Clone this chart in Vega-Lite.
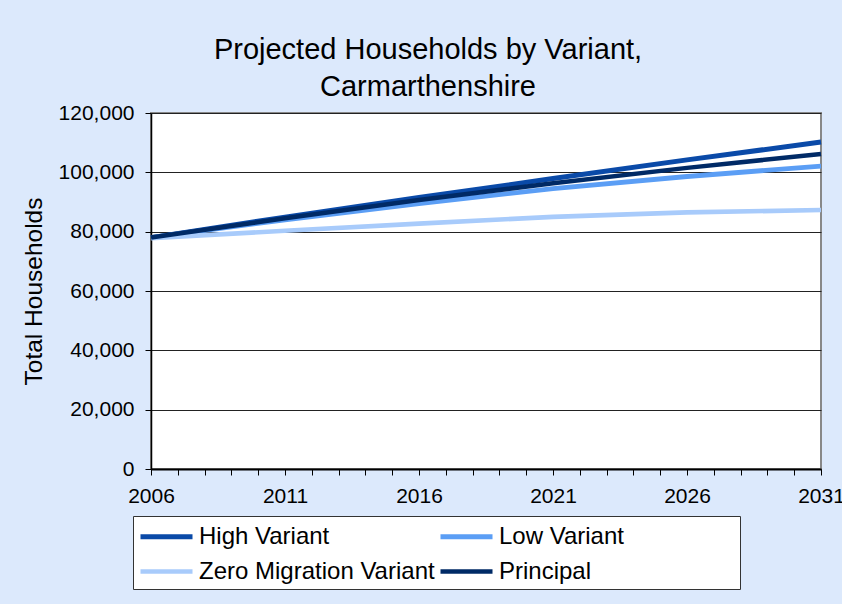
{
  "$schema": "https://vega.github.io/schema/vega-lite/v6.json",
  "width": 670,
  "height": 356,
  "autosize": {"type": "none"},
  "padding": {"left": 151, "top": 113, "right": 21, "bottom": 135},
  "background": "#dce9fc",
  "title": {
    "text": ["Projected Households by Variant,", "Carmarthenshire"],
    "font": "Liberation Sans",
    "fontSize": 29,
    "fontWeight": "normal",
    "color": "#000000",
    "anchor": "middle",
    "dx": -58,
    "lineHeight": 37,
    "offset": 0
  },
  "data": {
    "values": [
      {"series": "High Variant", "year": 2006, "households": 78000},
      {"series": "High Variant", "year": 2011, "households": 84900},
      {"series": "High Variant", "year": 2016, "households": 91500},
      {"series": "High Variant", "year": 2021, "households": 97900},
      {"series": "High Variant", "year": 2026, "households": 104200},
      {"series": "High Variant", "year": 2031, "households": 110200},
      {"series": "Low Variant", "year": 2006, "households": 78000},
      {"series": "Low Variant", "year": 2011, "households": 84000},
      {"series": "Low Variant", "year": 2016, "households": 89500},
      {"series": "Low Variant", "year": 2021, "households": 94500},
      {"series": "Low Variant", "year": 2026, "households": 98600},
      {"series": "Low Variant", "year": 2031, "households": 102100},
      {"series": "Zero Migration Variant", "year": 2006, "households": 77800},
      {"series": "Zero Migration Variant", "year": 2011, "households": 80300},
      {"series": "Zero Migration Variant", "year": 2016, "households": 82700},
      {"series": "Zero Migration Variant", "year": 2021, "households": 85000},
      {"series": "Zero Migration Variant", "year": 2026, "households": 86500},
      {"series": "Zero Migration Variant", "year": 2031, "households": 87300},
      {"series": "Principal", "year": 2006, "households": 78000},
      {"series": "Principal", "year": 2011, "households": 84500},
      {"series": "Principal", "year": 2016, "households": 90700},
      {"series": "Principal", "year": 2021, "households": 96300},
      {"series": "Principal", "year": 2026, "households": 101500},
      {"series": "Principal", "year": 2031, "households": 106200}
    ]
  },
  "encoding": {
    "x": {
      "field": "year",
      "type": "quantitative",
      "scale": {"domain": [2006, 2031], "nice": false, "zero": false},
      "axis": {
        "title": null,
        "values": [2006,2007,2008,2009,2010,2011,2012,2013,2014,2015,2016,2017,2018,2019,2020,2021,2022,2023,2024,2025,2026,2027,2028,2029,2030,2031],
        "format": "d",
        "labelExpr": "(datum.value - 2006) % 5 == 0 ? datum.label : ''",
        "grid": false,
        "domainColor": "#000000",
        "domainWidth": 2,
        "tickColor": "#000000",
        "tickSize": 6,
        "tickWidth": 1,
        "labelFont": "Liberation Sans",
        "labelFontSize": 21,
        "labelColor": "#000000",
        "labelPadding": 10,
        "labelOverlap": false,
        "labelFlush": false
      }
    },
    "y": {
      "field": "households",
      "type": "quantitative",
      "scale": {"domain": [0, 120000], "nice": false},
      "axis": {
        "title": "Total Households",
        "titleFont": "Liberation Sans",
        "titleFontSize": 24.5,
        "titleFontWeight": "normal",
        "titleColor": "#000000",
        "titlePadding": 12,
        "values": [0, 20000, 40000, 60000, 80000, 100000, 120000],
        "format": ",d",
        "grid": true,
        "gridColor": "#222222",
        "gridWidth": 1,
        "domainColor": "#000000",
        "domainWidth": 1.5,
        "tickColor": "#000000",
        "tickSize": 6,
        "labelFont": "Liberation Sans",
        "labelFontSize": 21,
        "labelColor": "#000000",
        "labelPadding": 11
      }
    },
    "color": {
      "field": "series",
      "type": "nominal",
      "sort": ["High Variant", "Low Variant", "Zero Migration Variant", "Principal"],
      "scale": {
        "domain": ["High Variant", "Low Variant", "Zero Migration Variant", "Principal"],
        "range": ["#0a4aa8", "#5b9ef5", "#a8cbfb", "#002a66"]
      },
      "legend": {
        "title": "\u00a0",
        "titleOrient": "right",
        "titleFontSize": 10,
        "titlePadding": 111,
        "orient": "none",
        "legendX": -18,
        "legendY": 403,
        "direction": "horizontal",
        "columns": 2,
        "gridAlign": "all",
        "columnPadding": -5,
        "rowPadding": 7,
        "padding": 5,
        "fillColor": "#ffffff",
        "strokeColor": "#333333",
        "symbolType": "M-1,0H3",
        "symbolSize": 676,
        "labelFont": "Liberation Sans",
        "labelFontSize": 24,
        "labelColor": "#000000",
        "labelOffset": 30,
        "labelLimit": 400
      }
    },
    "strokeWidth": {
      "field": "series",
      "type": "nominal",
      "sort": ["High Variant", "Low Variant", "Zero Migration Variant", "Principal"],
      "scale": {
        "domain": ["High Variant", "Low Variant", "Zero Migration Variant", "Principal"],
        "range": [5, 4.5, 5, 8]
      }
    }
  },
  "layer": [
    {
      "transform": [{"filter": "datum.series != 'Principal'"}],
      "mark": {"type": "line", "strokeCap": "butt", "strokeJoin": "round"}
    },
    {
      "transform": [{"filter": "datum.series == 'Principal'"}],
      "mark": {"type": "line", "strokeCap": "butt", "strokeJoin": "round"}
    }
  ],
  "config": {
    "view": {"stroke": "#888888", "strokeWidth": 2, "fill": "#ffffff"}
  }
}
